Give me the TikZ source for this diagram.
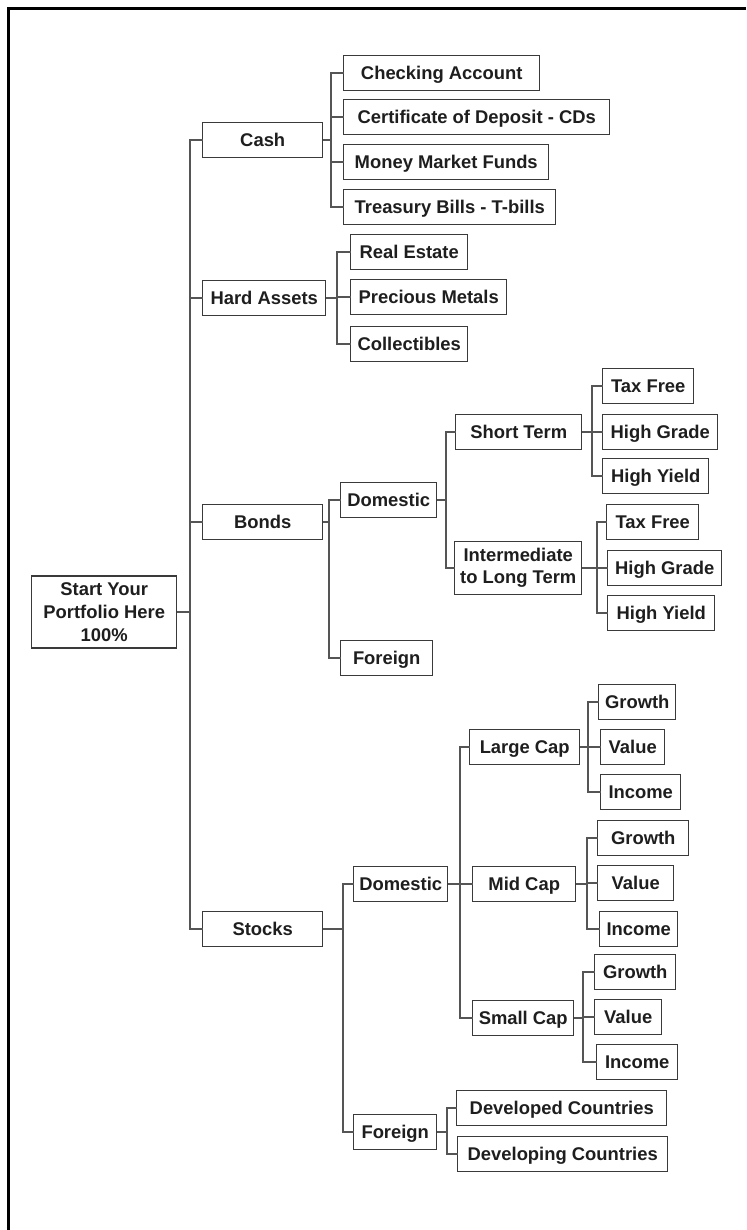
\documentclass[tikz,border=0pt]{standalone}
\usepackage{fontspec}
\setmainfont{Liberation Sans}
\usepackage{xcolor}

\definecolor{boxgray}{HTML}{3A3A3A}
\definecolor{linkgray}{HTML}{555555}
\definecolor{txtgray}{HTML}{1E1E1E}

\begin{document}
\begin{tikzpicture}[x=0.75pt, y=-0.75pt,
    frame/.style={draw=boxgray, line width=1.1pt, fill=white, anchor=west, inner sep=0pt, minimum height=26.25pt, text=txtgray, align=center, font=\bfseries\fontsize{13.8}{16.5}\selectfont},
    box/.style={frame, text height=9.9pt, text depth=0pt},
    link/.style={draw=linkgray, line width=1.1pt, line cap=rect}]
    \useasboundingbox (0,0) rectangle (746,1230);
    \draw[line width=2.2pt] (8.5,1230) -- (8.5,8.5) -- (746,8.5);

    % bus lines
    \coordinate (trunk) at (190,0);
    \coordinate (cashbus) at (331,0);
    \coordinate (hardbus) at (337,0);
    \coordinate (bondbus) at (329,0);
    \coordinate (bdombus) at (446,0);
    \coordinate (shortbus) at (592,0);
    \coordinate (interbus) at (597,0);
    \coordinate (stockbus) at (343,0);
    \coordinate (sdombus) at (460,0);
    \coordinate (largebus) at (588,0);
    \coordinate (midbus) at (587,0);
    \coordinate (smallbus) at (583,0);
    \coordinate (sforbus) at (447,0);

    \node[frame, minimum width=145*0.75pt, minimum height=72*0.75pt, font=\bfseries\fontsize{13.8}{17.2}\selectfont] (root) at (31,612) {Start Your\\Portfolio Here\\100\%};
    \draw[link] (root.east) -- (root.east -| trunk);

    \foreach \n/\y/\w/\t in {cash/140/120/Cash, hard/298/123/Hard Assets, bonds/522/120/Bonds, stocks/929/120/Stocks} {
        \node[box, minimum width=\w*0.75pt] (\n) at (202,\y) {\t};
        \draw[link] (\n.west) -- (\n.west -| trunk);
    }
    \draw[link] (cash.west -| trunk) -- (stocks.west -| trunk);

    % cash
    \foreach \n/\x/\y/\w/\t in {chk/343/73/196/Checking Account, cds/343/117/266/Certificate of Deposit - CDs, mmf/343/162/205/Money Market Funds, tbill/343/207/212/Treasury Bills - T-bills} {
        \node[box, minimum width=\w*0.75pt] (\n) at (\x,\y) {\t};
        \draw[link] (\n.west) -- (\n.west -| cashbus);
    }
    \draw[link] (cash.east) -- (cash.east -| cashbus);
    \draw[link] (chk.west -| cashbus) -- (tbill.west -| cashbus);

    % hard assets
    \foreach \n/\x/\y/\w/\t in {estate/350/252/117/Real Estate, metals/350/297/156/Precious Metals, collect/350/344/117/Collectibles} {
        \node[box, minimum width=\w*0.75pt] (\n) at (\x,\y) {\t};
        \draw[link] (\n.west) -- (\n.west -| hardbus);
    }
    \draw[link] (hard.east) -- (hard.east -| hardbus);
    \draw[link] (estate.west -| hardbus) -- (collect.west -| hardbus);

    % bonds
    \foreach \n/\x/\y/\w/\t in {bdom/340/500/96/Domestic, bfor/340/658/92/Foreign} {
        \node[box, minimum width=\w*0.75pt] (\n) at (\x,\y) {\t};
        \draw[link] (\n.west) -- (\n.west -| bondbus);
    }
    \draw[link] (bonds.east) -- (bonds.east -| bondbus);
    \draw[link] (bdom.west -| bondbus) -- (bfor.west -| bondbus);

    \node[box, minimum width=126*0.75pt] (short) at (455,432) {Short Term};
    \node[frame, minimum width=127*0.75pt, minimum height=53*0.75pt] (inter) at (454,568) {Intermediate\\to Long Term};
    \draw[link] (short.west) -- (short.west -| bdombus);
    \draw[link] (inter.west) -- (inter.west -| bdombus);
    \draw[link] (bdom.east) -- (bdom.east -| bdombus);
    \draw[link] (short.west -| bdombus) -- (inter.west -| bdombus);

    \foreach \n/\x/\y/\w/\t in {stf/602/386/91/Tax Free, shg/602/432/115/High Grade, shy/602/476/106/High Yield} {
        \node[box, minimum width=\w*0.75pt] (\n) at (\x,\y) {\t};
        \draw[link] (\n.west) -- (\n.west -| shortbus);
    }
    \draw[link] (short.east) -- (short.east -| shortbus);
    \draw[link] (stf.west -| shortbus) -- (shy.west -| shortbus);

    \foreach \n/\x/\y/\w/\t in {itf/606/522/92/Tax Free, ihg/607/568/114/High Grade, ihy/607/613/107/High Yield} {
        \node[box, minimum width=\w*0.75pt] (\n) at (\x,\y) {\t};
        \draw[link] (\n.west) -- (\n.west -| interbus);
    }
    \draw[link] (inter.east) -- (inter.east -| interbus);
    \draw[link] (itf.west -| interbus) -- (ihy.west -| interbus);

    % stocks
    \foreach \n/\x/\y/\w/\t in {sdom/353/884/94/Domestic, sfor/353/1132/83/Foreign} {
        \node[box, minimum width=\w*0.75pt] (\n) at (\x,\y) {\t};
        \draw[link] (\n.west) -- (\n.west -| stockbus);
    }
    \draw[link] (stocks.east) -- (stocks.east -| stockbus);
    \draw[link] (sdom.west -| stockbus) -- (sfor.west -| stockbus);

    \foreach \n/\x/\y/\w/\t in {large/469/747/110/Large Cap, mid/472/884/103/Mid Cap, small/472/1018/101/Small Cap} {
        \node[box, minimum width=\w*0.75pt] (\n) at (\x,\y) {\t};
        \draw[link] (\n.west) -- (\n.west -| sdombus);
    }
    \draw[link] (sdom.east) -- (sdom.east -| sdombus);
    \draw[link] (large.west -| sdombus) -- (small.west -| sdombus);

    \foreach \n/\x/\y/\w/\t in {lg/598/702/77/Growth, lv/600/747/64/Value, li/600/792/80/Income} {
        \node[box, minimum width=\w*0.75pt] (\n) at (\x,\y) {\t};
        \draw[link] (\n.west) -- (\n.west -| largebus);
    }
    \draw[link] (large.east) -- (large.east -| largebus);
    \draw[link] (lg.west -| largebus) -- (li.west -| largebus);

    \foreach \n/\x/\y/\w/\t in {mg/597/838/91/Growth, mv/597/883/76/Value, mi/599/929/78/Income} {
        \node[box, minimum width=\w*0.75pt] (\n) at (\x,\y) {\t};
        \draw[link] (\n.west) -- (\n.west -| midbus);
    }
    \draw[link] (mid.east) -- (mid.east -| midbus);
    \draw[link] (mg.west -| midbus) -- (mi.west -| midbus);

    \foreach \n/\x/\y/\w/\t in {smg/594/972/81/Growth, smv/594/1017/67/Value, smi/596/1062/81/Income} {
        \node[box, minimum width=\w*0.75pt] (\n) at (\x,\y) {\t};
        \draw[link] (\n.west) -- (\n.west -| smallbus);
    }
    \draw[link] (small.east) -- (small.east -| smallbus);
    \draw[link] (smg.west -| smallbus) -- (smi.west -| smallbus);

    \foreach \n/\x/\y/\w/\t in {devd/456/1108/210/Developed Countries, devg/457/1154/210/Developing Countries} {
        \node[box, minimum width=\w*0.75pt] (\n) at (\x,\y) {\t};
        \draw[link] (\n.west) -- (\n.west -| sforbus);
    }
    \draw[link] (sfor.east) -- (sfor.east -| sforbus);
    \draw[link] (devd.west -| sforbus) -- (devg.west -| sforbus);
\end{tikzpicture}
\end{document}
